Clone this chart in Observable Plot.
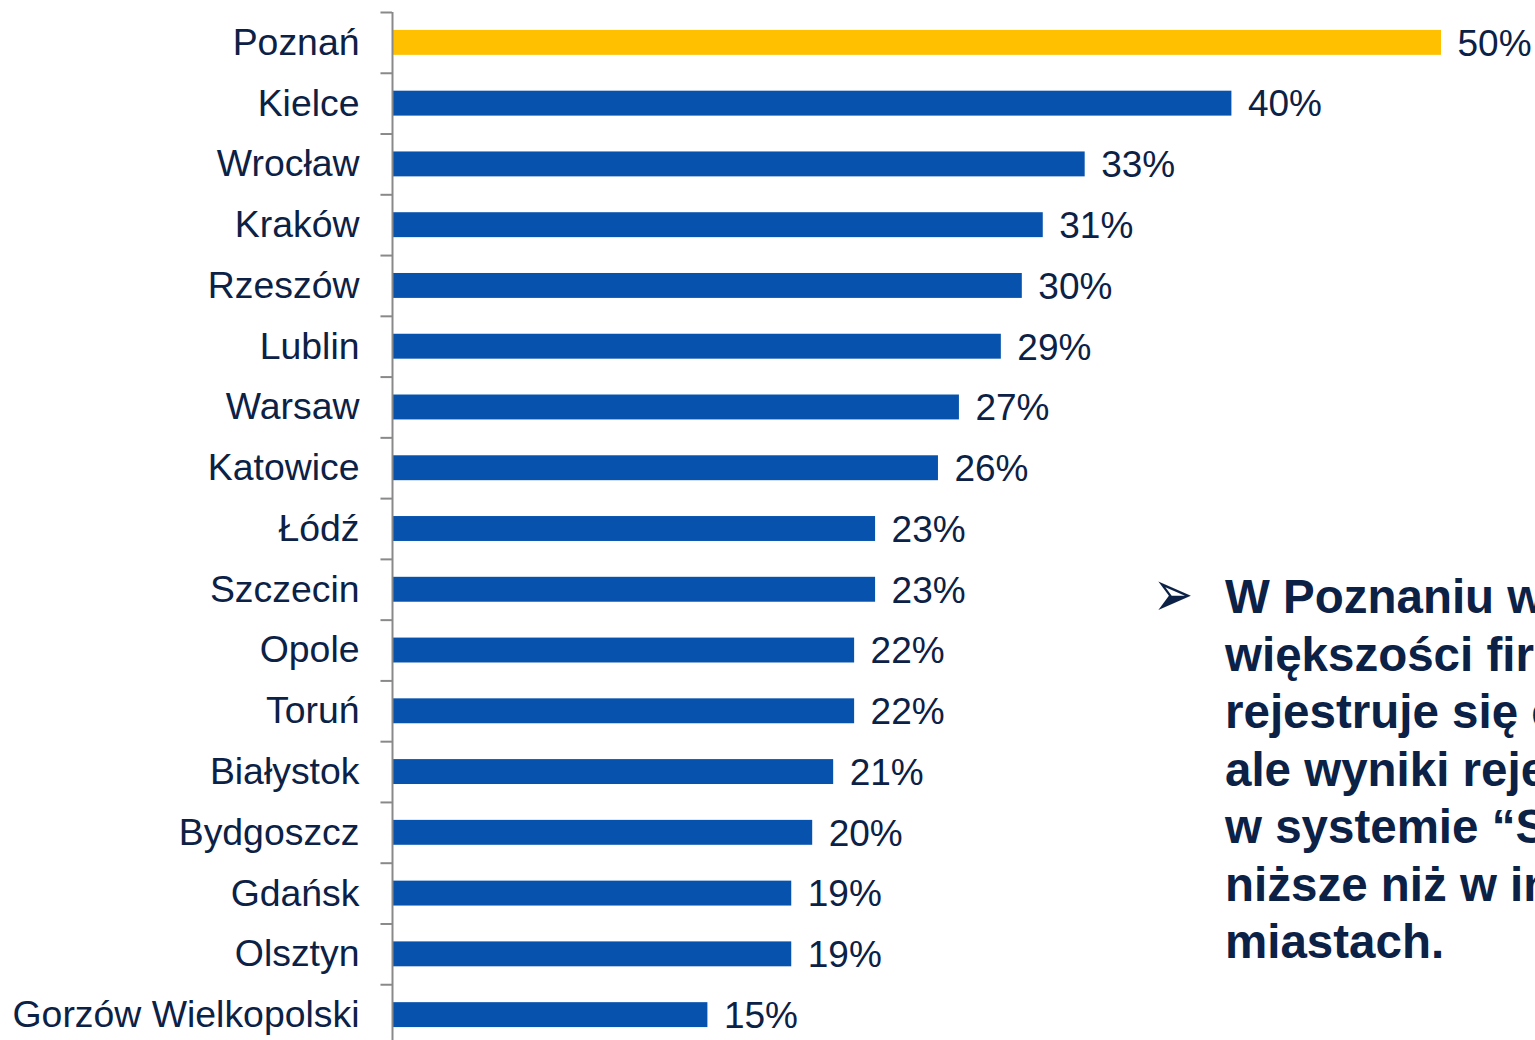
<!DOCTYPE html>
<html>
<head>
<meta charset="utf-8">
<script src="https://cdn.jsdelivr.net/npm/d3@7"></script>
<script src="https://cdn.jsdelivr.net/npm/@observablehq/plot@0.6"></script>
<style>
  html, body { margin: 0; padding: 0; background: #fff; overflow: hidden; }
  #wrap { position: relative; width: 1535px; height: 1040px; overflow: hidden; font-family: "Liberation Sans", Arial, sans-serif; }
  #chart { position: absolute; left: 0; top: 0; }
  #note { position: absolute; left: 1225px; top: 568px; width: 600px; font-weight: bold; font-size: 47.5px; line-height: 57.5px; color: #0c2146; white-space: nowrap; }
  #bullet { position: absolute; left: 1153px; top: 565px; font-family: "DejaVu Sans", sans-serif; font-size: 48px; line-height: 56px; color: #0c2146; transform: scaleY(1.35); transform-origin: 50% 50%; }
</style>
</head>
<body>
<div id="wrap">
  <div id="chart"></div>
  <div id="bullet">➢</div>
  <div id="note">W Poznaniu w<br>większości firm<br>rejestruje się czas<br>ale wyniki rejestracji<br>w systemie “S<br>niższe niż w innych<br>miastach.</div>
</div>
<script>
const cities = ["Poznań","Kielce","Wrocław","Kraków","Rzeszów","Lublin","Warsaw","Katowice","Łódź","Szczecin","Opole","Toruń","Białystok","Bydgoszcz","Gdańsk","Olsztyn","Gorzów Wielkopolski"];
const values = [50,40,33,31,30,29,27,26,23,23,22,22,21,20,19,19,15];
const highlight = "Poznań";

const data = cities.map((c, i) => ({city: c, value: values[i]}));
const step = (1045 - 12) / cities.length;

const navy = "#0c2146";
const chart = Plot.plot({
  width: 1535,
  height: 1040,
  marginLeft: 393,
  marginRight: 94,
  marginTop: 12,
  marginBottom: 0,
  style: {fontFamily: "'Liberation Sans', Arial, sans-serif", background: "transparent"},
  x: {domain: [0, 50], axis: null},
  y: {domain: cities, range: [12, 1045], paddingInner: 0.59, paddingOuter: 0.295, round: false, label: null},
  marks: [
    Plot.barX(data, {y: "city", x: "value", fill: d => d.city === highlight ? "#FFC000" : "#0652AD"}),
    Plot.text(data, {y: "city", x: "value", text: d => d.value + "%", textAnchor: "start", dx: 16, dy: 1, fontSize: 37, fill: navy}),
    Plot.ruleY(cities, {y: d => d, x1: -0.55, x2: 0, dy: -step / 2, dx: -1, stroke: "#898989", strokeWidth: 2}),
    Plot.ruleX([0], {dx: -1, stroke: "#898989", strokeWidth: 2}),
    Plot.axisY({tickSize: 0, tickPadding: 34, fontSize: 37.4, fill: navy, label: null})
  ]
});
document.getElementById("chart").append(chart);
</script>
</body>
</html>
